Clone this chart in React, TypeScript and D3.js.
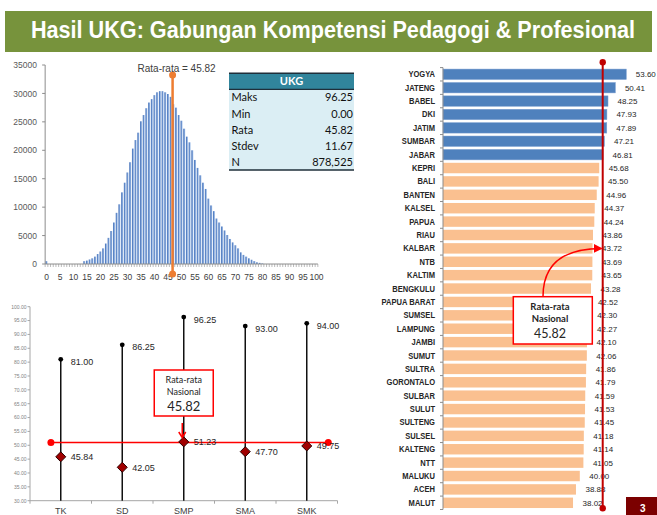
import React, { useLayoutEffect, useRef, useState } from "react";
import * as d3 from "d3";

const TITLE = "Hasil UKG: Gabungan Kompetensi Pedagogi & Profesional";

// ---- Histogram (score distribution) ----
const histScores = d3.range(0, 101);
const histCounts = [
  500, 0, 0, 0, 0, 0, 0, 0, 0, 0,
  0, 0, 0, 0, 500, 600, 800, 1000, 1300, 1750,
  2200, 2750, 3600, 4600, 5800, 7300, 9000, 10500, 12600, 14300,
  16100, 17900, 20300, 21800, 23100, 25100, 26200, 27400, 28400, 29000,
  29700, 30200, 30400, 30400, 30200, 29900, 29400, 28100, 27500, 26200,
  25200, 23800, 22400, 21400, 20000, 18300, 16900, 15600, 14300, 13200,
  11500, 10300, 9300, 8000, 7300, 6600, 5900, 5100, 4400, 3800,
  3300, 2750, 2050, 1600, 1300, 1000, 750, 500, 300, 200,
  100, 0, 0, 0, 0, 0, 0, 0, 0, 0,
  0, 0, 0, 0, 0, 0, 0, 0, 0, 0,
  0,
];
const histYTicks = [0, 5000, 10000, 15000, 20000, 25000, 30000, 35000];
const histXTickLabels = [0, 5, 10, 15, 20, 25, 30, 35, 40, 45, 50, 55, 60, 65, 70, 75, 80, 85, 90, 95, 100];
const histMeanMarkerAt = 46.7;
const histMeanLabel = "Rata-rata = 45.82";

// ---- Summary table ----
const tableTitle = "UKG";
const statLabels = ["Maks", "Min", "Rata", "Stdev", "N"];
const statValues = ["96.25", "0.00", "45.82", "11.67", "878,525"];

// ---- Per level ----
const levels = ["TK", "SD", "SMP", "SMA", "SMK"];
const levelMax = [81.0, 86.25, 96.25, 93.0, 94.0];
const levelMean = [45.84, 42.05, 51.23, 47.7, 49.75];
const levelYTicks = [30, 35, 40, 45, 50, 55, 60, 65, 70, 75, 80, 85, 90, 95, 100];
const levelNationalLineAt = 51.0;

// ---- Per province ----
const provinces = [
  "YOGYA", "JATENG", "BABEL", "DKI", "JATIM", "SUMBAR", "JABAR", "KEPRI", "BALI", "BANTEN",
  "KALSEL", "PAPUA", "RIAU", "KALBAR", "NTB", "KALTIM", "BENGKULU", "PAPUA BARAT", "SUMSEL", "LAMPUNG",
  "JAMBI", "SUMUT", "SULTRA", "GORONTALO", "SULBAR", "SULUT", "SULTENG", "SULSEL", "KALTENG", "NTT",
  "MALUKU", "ACEH", "MALUT",
];
const provinceScores = [
  53.6, 50.41, 48.25, 47.93, 47.89, 47.21, 46.81, 45.68, 45.5, 44.96,
  44.37, 44.24, 43.86, 43.72, 43.69, 43.65, 43.28, 42.52, 42.3, 42.27,
  42.1, 42.06, 41.86, 41.79, 41.59, 41.53, 41.45, 41.18, 41.14, 41.05,
  40.0, 38.88, 38.02,
];
const provinceLineAt = 46.7;
const calloutLines = ["Rata-rata", "Nasional", "45.82"];
const pageNumber = "3";

const SANS = "'Liberation Sans', Arial, sans-serif";
const CAL = "Lato, 'Open Sans', sans-serif";

export default function App() {
  const titleRef = useRef<SVGTextElement>(null);
  const [titleScale, setTitleScale] = useState(0.85);
  useLayoutEffect(() => {
    const el = titleRef.current;
    if (el) {
      const w = el.getComputedTextLength();
      if (w > 0) setTitleScale(Math.min(1, 604 / w));
    }
  }, []);

  // histogram scales
  const hx = d3
    .scaleBand<number>()
    .domain(histScores)
    .range([45.15, 317.85])
    .paddingInner(0.3)
    .paddingOuter(0.15);
  const hStep = hx.step();
  const hCenter = (v: number) => (hx(0) as number) + hx.bandwidth() / 2 + v * hStep;
  const hy = d3.scaleLinear().domain([0, 35000]).range([264, 65]);
  const hx0 = 45.15;
  const meanX = hCenter(histMeanMarkerAt);

  // table layout
  const tX0 = 229, tX1 = 354, tY0 = 73.3, headH = 16, rowH = 16.14;

  // level chart scales
  const lx = d3.scaleBand<string>().domain(levels).range([30, 337.5]);
  const ly = d3.scaleLinear().domain([30, 100]).range([500.7, 306.7]);
  const lc = (d: string) => (lx(d) as number) + lx.bandwidth() / 2;
  const redY = ly(levelNationalLineAt);
  const redX0 = (lx(levels[0]) as number) + lx.bandwidth() * 0.34;
  const redX1 = (lx(levels[levels.length - 1]) as number) + lx.bandwidth() * 0.85;
  const smpX = lc("SMP");

  // province scales
  const py = d3
    .scaleBand<string>()
    .domain(provinces)
    .range([67.6, 509.5])
    .paddingInner(0.22)
    .paddingOuter(0.11);
  const px = d3.scaleLinear().domain([0, 60]).range([443, 443 + 60 * 3.42]);
  const pLineX = px(provinceLineAt);
  const kalbarY = (py("KALBAR") as number) + py.bandwidth() / 2;

  const gray = "#8c8c8c";

  return (
    <svg
      width={657}
      height={515}
      viewBox="0 0 657 515"
      style={{ position: "absolute", left: 0, top: 0, background: "#fff" }}
    >
      <defs>
        <linearGradient id="histBar" x1="0" x2="1" y1="0" y2="0">
          <stop offset="0" stopColor="#3a68b4" />
          <stop offset="1" stopColor="#9fbfea" />
        </linearGradient>
        <marker id="arrowR" viewBox="0 0 10 10" refX="9" refY="5" markerWidth="6" markerHeight="6" orient="auto">
          <path d="M0,0 L10,5 L0,10 z" fill="#ff0000" />
        </marker>
      </defs>

      {/* Title bar */}
      <rect x={5} y={11} width={647} height={41} fill="#77933c" />
      <text
        ref={titleRef}
        transform={`translate(333,37.5) scale(${titleScale},1)`}
        textAnchor="middle"
        fill="#fff"
        fontFamily={SANS}
        fontWeight="bold"
        fontSize={23}
      >
        {TITLE}
      </text>

      {/* ===== Histogram ===== */}
      {histScores.map((s, i) =>
        histCounts[i] > 0 ? (
          <rect
            key={"hb" + s}
            x={hx(s)}
            y={hy(histCounts[i])}
            width={hx.bandwidth()}
            height={hy(0) - hy(histCounts[i])}
            fill="url(#histBar)"
          />
        ) : null
      )}
      <line x1={hx0} x2={317.85} y1={hy(0)} y2={hy(0)} stroke={gray} strokeWidth={1} />
      {d3.range(0, 102).map((i) => (
        <line key={"hxt" + i} x1={hx0 + i * hStep} x2={hx0 + i * hStep} y1={hy(0)} y2={hy(0) + 3} stroke={gray} strokeWidth={0.6} />
      ))}
      <line x1={hx0} x2={hx0} y1={hy(35000)} y2={hy(0)} stroke={gray} strokeWidth={1} />
      {histYTicks.map((t) => (
        <g key={"hyt" + t}>
          <line x1={hx0 - 3} x2={hx0} y1={hy(t)} y2={hy(t)} stroke={gray} />
          <text x={37} y={hy(t) + 3.2} textAnchor="end" fontFamily={SANS} fontSize={8.5} fill="#595959">
            {t}
          </text>
        </g>
      ))}
      {histXTickLabels.map((t) => (
        <text key={"hxl" + t} x={hCenter(t)} y={280} textAnchor="middle" fontFamily={SANS} fontSize={8.5} fill="#404040">
          {t}
        </text>
      ))}
      <line x1={meanX} x2={meanX} y1={75} y2={274} stroke="#ed7d31" strokeWidth={2.5} />
      <circle cx={meanX} cy={75} r={3.5} fill="#ed7d31" />
      <circle cx={meanX} cy={274} r={3.5} fill="#ed7d31" />
      <text x={meanX + 4} y={72} textAnchor="middle" fontFamily={SANS} fontSize={10} fill="#404040">
        {histMeanLabel}
      </text>

      {/* ===== Table ===== */}
      <rect x={tX0} y={tY0} width={tX1 - tX0} height={headH} fill="#31859c" />
      <rect x={tX0} y={tY0 + headH} width={tX1 - tX0} height={rowH * statLabels.length} fill="#dbeef4" />
      <line x1={tX0} x2={tX1} y1={tY0} y2={tY0} stroke="#1f2f3a" strokeWidth={1.5} />
      <line x1={tX0} x2={tX1} y1={tY0 + headH} y2={tY0 + headH} stroke="#1f2f3a" strokeWidth={1.2} />
      <line
        x1={tX0}
        x2={tX1}
        y1={tY0 + headH + rowH * statLabels.length}
        y2={tY0 + headH + rowH * statLabels.length}
        stroke="#1f2f3a"
        strokeWidth={1.5}
      />
      <text x={(tX0 + tX1) / 2} y={tY0 + 12} textAnchor="middle" fill="#fff" fontFamily={CAL} fontWeight="bold" fontSize={11}>
        {tableTitle}
      </text>
      {statLabels.map((lab, i) => {
        const cy = tY0 + headH + rowH * i + rowH / 2;
        return (
          <g key={"st" + lab}>
            <text x={tX0 + 2.5} y={cy + 4} fontFamily={CAL} fontSize={11} fill="#111">
              {lab}
            </text>
            <text x={tX1 - 1} y={cy + 4} textAnchor="end" fontFamily={CAL} fontSize={11} fill="#111">
              {statValues[i]}
            </text>
          </g>
        );
      })}

      {/* ===== Level chart ===== */}
      <line x1={30} x2={30} y1={ly(100)} y2={ly(30)} stroke="#a6a6a6" strokeWidth={1} />
      {levelYTicks.map((t) => (
        <g key={"lyt" + t}>
          <line x1={27.5} x2={30} y1={ly(t)} y2={ly(t)} stroke="#a6a6a6" />
          <text x={26.5} y={ly(t) + 1.8} textAnchor="end" fontFamily={SANS} fontSize={5} fill="#7f7f7f">
            {t.toFixed(2)}
          </text>
        </g>
      ))}
      <line x1={30} x2={337.5} y1={ly(30)} y2={ly(30)} stroke="#a6a6a6" strokeWidth={1} />
      {d3.range(0, levels.length + 1).map((i) => (
        <line
          key={"lxt" + i}
          x1={30 + i * lx.step()}
          x2={30 + i * lx.step()}
          y1={ly(30)}
          y2={ly(30) + 3}
          stroke="#a6a6a6"
        />
      ))}
      {levels.map((d) => (
        <text key={"lxl" + d} x={lc(d)} y={513.5} textAnchor="middle" fontFamily={SANS} fontSize={9} fill="#404040">
          {d}
        </text>
      ))}
      {levels.map((d, i) => (
        <line key={"lv" + d} x1={lc(d)} x2={lc(d)} y1={ly(levelMax[i])} y2={ly(30)} stroke="#111" strokeWidth={1.5} />
      ))}
      {/* national line */}
      <line x1={redX0} x2={redX1} y1={redY} y2={redY} stroke="#ff0000" strokeWidth={1.5} />
      <circle cx={redX0} cy={redY} r={3.5} fill="#ff0000" />
      <circle cx={redX1} cy={redY} r={3.5} fill="#ff0000" />
      {levels.map((d, i) => (
        <g key={"lm" + d}>
          <circle cx={lc(d)} cy={ly(levelMax[i])} r={2.4} fill="#000" />
          <text x={lc(d) + 10} y={ly(levelMax[i]) + 5.5} fontFamily={SANS} fontSize={9} fill="#262626">
            {levelMax[i].toFixed(2)}
          </text>
          <path
            d={`M${lc(d)},${ly(levelMean[i]) - 5} L${lc(d) + 5},${ly(levelMean[i])} L${lc(d)},${ly(levelMean[i]) + 5} L${lc(d) - 5},${ly(levelMean[i])} Z`}
            fill="#a00000"
            stroke="#2a0000"
            strokeWidth={1}
          />
          <text x={lc(d) + 10} y={ly(levelMean[i]) + 3.5} fontFamily={SANS} fontSize={9} fill="#262626">
            {levelMean[i].toFixed(2)}
          </text>
        </g>
      ))}
      {/* left callout */}
      <rect x={smpX - 29.5} y={370} width={59} height={46} fill="#fff" stroke="#ff0000" strokeWidth={1.5} />
      <text x={smpX} y={383} textAnchor="middle" fontFamily={CAL} fontSize={9} fill="#262626">
        {calloutLines[0]}
      </text>
      <text x={smpX} y={394.5} textAnchor="middle" fontFamily={CAL} fontSize={9} fill="#262626">
        {calloutLines[1]}
      </text>
      <text x={smpX} y={410.5} textAnchor="middle" fontFamily={CAL} fontSize={13} fill="#262626">
        {calloutLines[2]}
      </text>
      <line x1={smpX - 1.5} x2={smpX - 1.5} y1={423} y2={437} stroke="#ff0000" strokeWidth={1.5} />
      <path d={`M${smpX - 5},${432} L${smpX - 1.5},${437.5} L${smpX + 2},${432}`} fill="none" stroke="#ff0000" strokeWidth={1.5} />

      {/* ===== Province chart ===== */}
      {provinces.map((p, i) => {
        const y = py(p) as number;
        const above = provinceScores[i] > provinceLineAt;
        return (
          <g key={"pb" + p}>
            <rect
              x={px(0)}
              y={y}
              width={px(provinceScores[i]) - px(0)}
              height={py.bandwidth()}
              fill={above ? "#4f81bd" : "#fac090"}
              stroke={above ? "#7fa2d2" : "none"}
              strokeWidth={0.5}
            />
            <text
              transform={`translate(435,${y + py.bandwidth() / 2 + 3}) scale(0.84,1)`}
              textAnchor="end"
              fontFamily={SANS}
              fontWeight="bold"
              fontSize={9}
              fill="#262626"
            >
              {p}
            </text>
            <text
              x={px(provinceScores[i]) + 9.5}
              y={y + py.bandwidth() / 2 + 3}
              fontFamily={SANS}
              fontSize={8}
              fill="#262626"
            >
              {provinceScores[i].toFixed(2)}
            </text>
          </g>
        );
      })}
      <line x1={px(0)} x2={px(0)} y1={67.6} y2={509.5} stroke={gray} strokeWidth={1} />
      {d3.range(0, provinces.length + 1).map((i) => (
        <line
          key={"pyt" + i}
          x1={px(0) - 3}
          x2={px(0)}
          y1={67.6 + i * py.step()}
          y2={67.6 + i * py.step()}
          stroke={gray}
        />
      ))}
      <line x1={pLineX} x2={pLineX} y1={62.3} y2={508.3} stroke="#c00000" strokeWidth={2} />
      <circle cx={pLineX} cy={62.3} r={3.2} fill="#c00000" />
      <circle cx={pLineX} cy={508.3} r={3.2} fill="#c00000" />

      {/* right callout */}
      <path
        d={`M${543},${296.5} C${543},${262} ${565},${kalbarY} ${pLineX - 1},${kalbarY}`}
        fill="none"
        stroke="#ff0000"
        strokeWidth={1.5}
        markerEnd="url(#arrowR)"
      />
      <rect x={513.3} y={296.7} width={79} height={47.3} fill="#fff" stroke="#ff0000" strokeWidth={1.5} />
      <text x={550} y={310} textAnchor="middle" fontFamily={CAL} fontWeight="bold" fontSize={9.5} fill="#262626">
        {calloutLines[0]}
      </text>
      <text x={550} y={321.5} textAnchor="middle" fontFamily={CAL} fontWeight="bold" fontSize={9.5} fill="#262626">
        {calloutLines[1]}
      </text>
      <text x={550} y={338} textAnchor="middle" fontFamily={CAL} fontSize={12.5} fill="#262626">
        {calloutLines[2]}
      </text>

      {/* page badge */}
      <rect x={626} y={497} width={31} height={18} fill="#7b0000" />
      <text x={640} y={512} fontFamily={SANS} fontWeight="bold" fontSize={10} fill="#fff">
        {pageNumber}
      </text>
    </svg>
  );
}
